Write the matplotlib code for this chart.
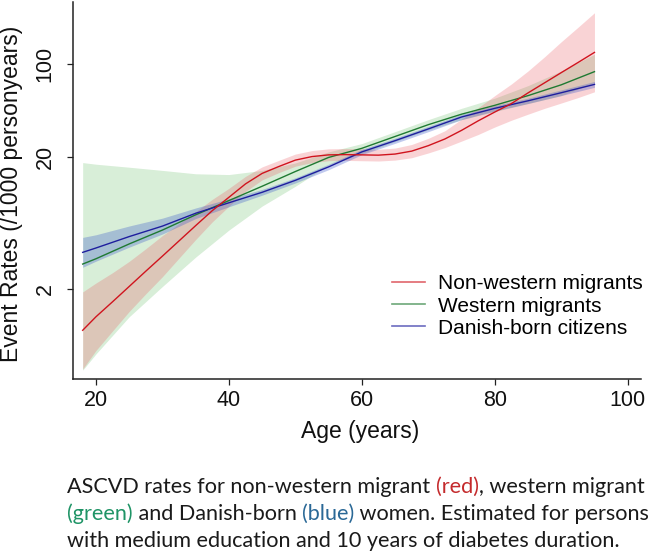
import matplotlib
matplotlib.use("Agg")
import matplotlib.pyplot as plt
from matplotlib.lines import Line2D

# ---------------- data ----------------
# Non-western migrants (read on a finer age grid: the curve bends strongly)
ages_nw = [18, 20, 22.5, 25, 27.5, 30, 32.5, 35, 37.5, 40, 42.5, 45, 47.5, 50, 52.5, 55, 57.5,
           60, 62.5, 65, 67.5, 70, 72.5, 75, 77.5, 80, 82.5, 85, 87.5, 90, 92.5, 95]
nonwestern    = [0.98, 1.24, 1.61, 2.10, 2.74, 3.56, 4.64, 6.05, 7.85, 9.90, 12.5, 15.0, 16.9, 18.9, 20.1, 20.7, 20.8,
                 20.7, 20.6, 21.0, 22.1, 24.3, 27.3, 31.7, 37.4, 43.6, 50.5, 60.8, 72.5, 86.5, 103.0, 123.0]
nonwestern_lo = [0.50, 0.69, 0.97, 1.36, 1.85, 2.49, 3.44, 4.75, 6.46, 8.47, 10.96, 13.4, 15.2, 17.0, 18.1, 18.7, 18.8,
                 18.7, 18.6, 18.9, 19.7, 21.4, 23.5, 26.3, 29.5, 33.6, 37.8, 42.0, 46.5, 51.0, 56.0, 62.0]
nonwestern_hi = [1.91, 2.23, 2.67, 3.25, 4.05, 5.09, 6.26, 7.71, 9.55, 11.57, 14.25, 16.8, 18.8, 21.0, 22.3, 23.0, 23.1,
                 23.0, 22.8, 23.3, 24.8, 27.6, 31.5, 38.5, 47.0, 58.0, 71.0, 89.0, 114.0, 148.0, 190.0, 245.0]

# Western migrants and Danish-born citizens (nearly straight on the log scale)
ages = [18, 20, 25, 30, 35, 40, 45, 50, 55, 60, 65, 70, 75, 80, 85, 90, 95]
western    = [3.10, 3.40, 4.40, 5.60, 7.30, 9.35, 12.0, 15.5, 19.8, 23.2, 28.5, 35.0, 42.0, 49.0, 58.0, 70.0, 88.0]
western_lo = [0.49, 0.65, 1.24, 2.10, 3.50, 5.60, 8.50, 12.0, 17.4, 21.2, 26.1, 32.0, 38.2, 44.0, 50.5, 58.0, 73.0]
western_hi = [18.1, 17.6, 16.7, 15.8, 14.9, 14.7, 15.8, 18.0, 21.8, 25.2, 31.0, 38.2, 46.5, 55.5, 69.0, 89.0, 119.0]

danish    = [3.80, 4.10, 5.00, 6.00, 7.50, 9.00, 10.8, 13.3, 16.8, 21.8, 26.5, 32.5, 40.0, 46.5, 53.0, 61.0, 70.5]
danish_lo = [2.93, 3.26, 4.16, 5.23, 6.84, 8.40, 10.27, 12.7, 16.0, 20.8, 25.3, 31.0, 38.2, 44.4, 50.6, 58.1, 67.0]
danish_hi = [4.93, 5.16, 6.01, 6.89, 8.22, 9.65, 11.36, 13.9, 17.6, 22.8, 27.7, 34.0, 41.9, 48.7, 55.5, 64.1, 74.2]

series_labels = ["Non-western migrants", "Western migrants", "Danish-born citizens"]
x_ticks = [20, 40, 60, 80, 100]
y_ticks = [2, 20, 100]
y_tick_labels = ["2", "20", "100"]
x_label = "Age (years)"
y_label = "Event Rates (/1000 personyears)"
caption_lines = [
    [("ASCVD rates for non-western migrant ", "k"), ("(red)", "r"), (", western migrant", "k")],
    [("(green)", "g"), (" and Danish-born ", "k"), ("(blue)", "b"), (" women. Estimated for persons", "k")],
    [("with medium education and 10 years of diabetes duration.", "k")],
]

# ---------------- style ----------------
W, H = 657, 554
AXFONT = ["Liberation Sans", "DejaVu Sans"]
CAPFONT = ["Lato", "DejaVu Sans"]
red_line, green_line, blue_line = "#d0141e", "#1f7a32", "#1e1e9e"
cap_colors = {"k": "#1a1a1a", "r": "#c42a2c", "g": "#1f9466", "b": "#2a6896"}

fig = plt.figure(figsize=(W / 100, H / 100), dpi=100)
fig.patch.set_facecolor("white")
ax = fig.add_axes([72.7 / W, (H - 379.3) / H, (641 - 72.7) / W, (379.3 - 1.7) / H])

ax.fill_between(ages, western_lo, western_hi, color=(60/255, 170/255, 60/255), alpha=0.2, lw=0, zorder=1)
ax.fill_between(ages_nw, nonwestern_lo, nonwestern_hi, color=(235/255, 80/255, 90/255), alpha=0.25, lw=0, zorder=2)
ax.fill_between(ages, danish_lo, danish_hi, color=(50/255, 80/255, 200/255), alpha=0.3, lw=0, zorder=3)

ax.plot(ages, western, color=green_line, lw=1.0, zorder=5)
ax.plot(ages, danish, color=blue_line, lw=1.0, zorder=6)
ax.plot(ages_nw, nonwestern, color=red_line, lw=1.0, zorder=7)

ax.set_yscale("log")
ax.set_xlim(16.5, 102)
ax.set_ylim(0.418, 297)
ax.set_xticks(x_ticks)
ax.set_xticklabels([str(t) for t in x_ticks])
ax.set_yticks(y_ticks)
ax.set_yticklabels(y_tick_labels)
ax.minorticks_off()
ax.yaxis.set_minor_locator(matplotlib.ticker.NullLocator())

for s in ["top", "right"]:
    ax.spines[s].set_visible(False)
for s in ["left", "bottom"]:
    ax.spines[s].set_color("#222222")
    ax.spines[s].set_linewidth(1.1)

ax.tick_params(axis="both", direction="out", length=4.3, width=0.9, color="#222222",
               labelsize=15.5, labelcolor="#111111")
ax.tick_params(axis="x", pad=3.6)
ax.tick_params(axis="y", pad=8.0, labelrotation=90)
for lab in ax.get_xticklabels() + ax.get_yticklabels():
    lab.set_family(AXFONT)
for lab in ax.get_yticklabels():
    lab.set_va("center")

fig.text(18.5 / W, (H - 194) / H, y_label, rotation=90, rotation_mode="anchor",
         ha="center", va="baseline", fontsize=16.5, family=AXFONT, color="#111111")
fig.text(360 / W, (H - 438) / H, x_label, ha="center", va="baseline",
         fontsize=16.5, family=AXFONT, color="#111111")

handles = [Line2D([], [], color=c, lw=1.2, alpha=0.65) for c in (red_line, green_line, blue_line)]
ax.legend(handles, series_labels, loc="center left", bbox_to_anchor=(392 / W, (H - 306) / H),
          bbox_transform=fig.transFigure, frameon=False, borderaxespad=0, borderpad=0,
          handlelength=1.6, handletextpad=0.62, labelspacing=0.15,
          prop={"family": AXFONT, "size": 15})

# ---------------- caption with coloured words ----------------
cap_fs = 15.6
fig.canvas.draw()
renderer = fig.canvas.get_renderer()

def text_width(s):
    t = fig.text(0, 0, s, fontsize=cap_fs, family=CAPFONT)
    w = t.get_window_extent(renderer=renderer).width
    t.remove()
    return w

baselines = [493, 520, 547]
x0 = 67
for line, yb in zip(caption_lines, baselines):
    prefix = ""
    for seg, col in line:
        if prefix == "":
            xs = x0
        else:
            xs = x0 + text_width(prefix + seg) - text_width(seg)
        fig.text(xs / W, (H - yb) / H, seg, fontsize=cap_fs, family=CAPFONT,
                 color=cap_colors[col], ha="left", va="baseline")
        prefix += seg

fig.savefig("out.png", dpi=100, facecolor="white")
